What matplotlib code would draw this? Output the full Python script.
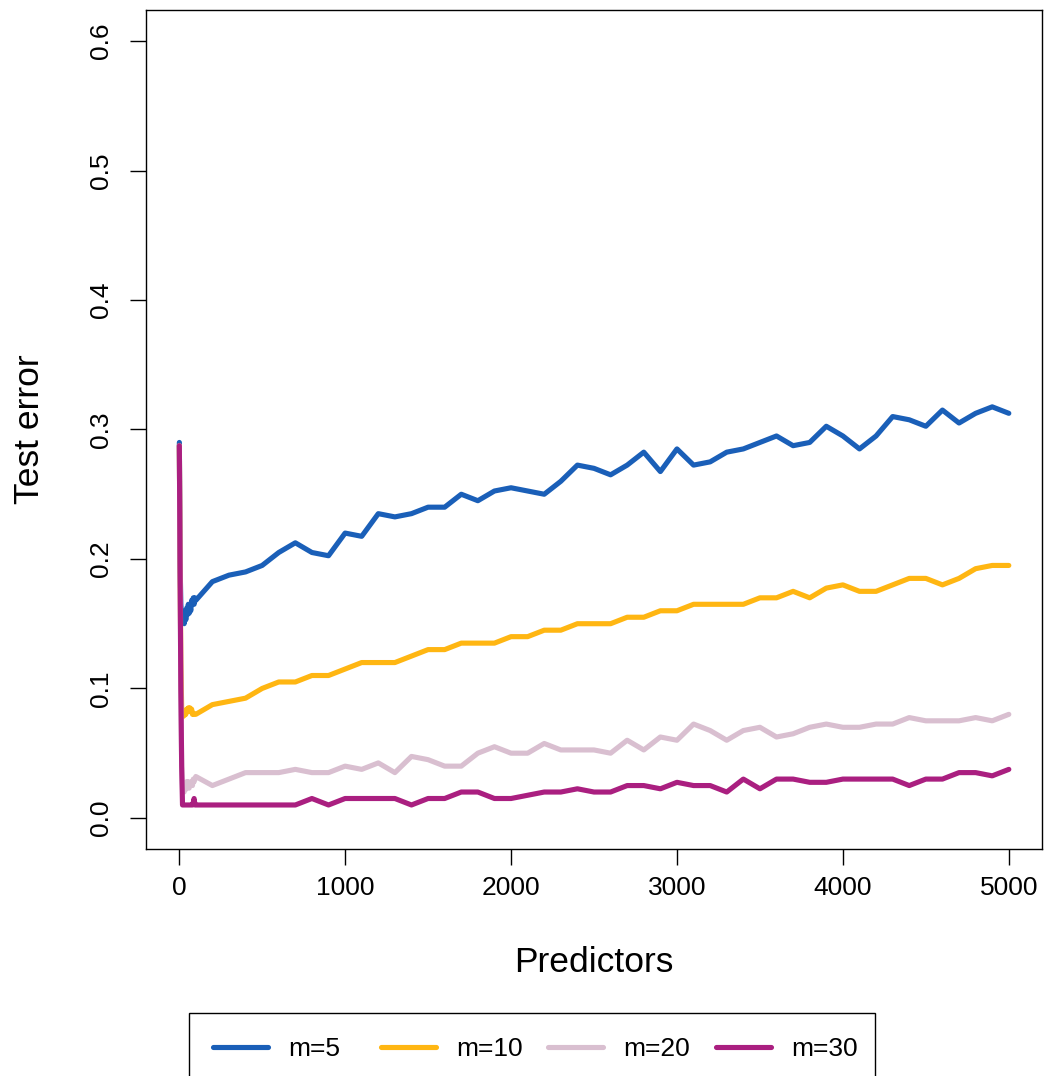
import matplotlib
matplotlib.use("Agg")
import matplotlib.pyplot as plt
from matplotlib.lines import Line2D
from matplotlib.patches import Rectangle

plt.rcParams['font.family'] = ['Liberation Sans', 'DejaVu Sans']

# Number of predictors: fine steps up to 100, then steps of 100
predictors = [1, 5, 10, 15, 20, 25, 30, 35, 40, 45, 50, 55, 60, 65, 70, 75, 80, 85, 90, 95, 100,
              200, 300, 400, 500, 600, 700, 800, 900, 1000,
              1100, 1200, 1300, 1400, 1500, 1600, 1700, 1800, 1900, 2000,
              2100, 2200, 2300, 2400, 2500, 2600, 2700, 2800, 2900, 3000,
              3100, 3200, 3300, 3400, 3500, 3600, 3700, 3800, 3900, 4000,
              4100, 4200, 4300, 4400, 4500, 4600, 4700, 4800, 4900, 5000]

err_m5 = [0.29, 0.20, 0.165, 0.155, 0.152, 0.158, 0.150, 0.160, 0.153, 0.162, 0.157, 0.165, 0.158,
          0.163, 0.160, 0.168, 0.165, 0.170, 0.165, 0.170, 0.168,
          0.1825, 0.1875, 0.19, 0.195, 0.205, 0.2125, 0.205, 0.2025, 0.22,
          0.2175, 0.235, 0.2325, 0.235, 0.24, 0.24, 0.25, 0.245, 0.2525, 0.255,
          0.2525, 0.25, 0.26, 0.2725, 0.27, 0.265, 0.2725, 0.2825, 0.2675, 0.285,
          0.2725, 0.275, 0.2825, 0.285, 0.29, 0.295, 0.2875, 0.29, 0.3025, 0.295,
          0.285, 0.295, 0.31, 0.3075, 0.3025, 0.315, 0.305, 0.3125, 0.3175, 0.3125]

err_m10 = [0.2875, 0.20, 0.12, 0.085, 0.078, 0.080, 0.079, 0.082, 0.080, 0.084, 0.082, 0.085, 0.083,
           0.085, 0.082, 0.084, 0.080, 0.081, 0.080, 0.080, 0.080,
           0.0875, 0.09, 0.0925, 0.10, 0.105, 0.105, 0.11, 0.11, 0.115,
           0.12, 0.12, 0.12, 0.125, 0.13, 0.13, 0.135, 0.135, 0.135, 0.14,
           0.14, 0.145, 0.145, 0.15, 0.15, 0.15, 0.155, 0.155, 0.16, 0.16,
           0.165, 0.165, 0.165, 0.165, 0.17, 0.17, 0.175, 0.17, 0.1775, 0.18,
           0.175, 0.175, 0.18, 0.185, 0.185, 0.18, 0.185, 0.1925, 0.195, 0.195]

err_m20 = [0.2875, 0.20, 0.10, 0.04, 0.022, 0.025, 0.020, 0.027, 0.022, 0.028, 0.025, 0.028, 0.023,
           0.027, 0.025, 0.028, 0.025, 0.030, 0.028, 0.030, 0.032,
           0.025, 0.03, 0.035, 0.035, 0.035, 0.0375, 0.035, 0.035, 0.04,
           0.0375, 0.0425, 0.035, 0.0475, 0.045, 0.04, 0.04, 0.05, 0.055, 0.05,
           0.05, 0.0575, 0.0525, 0.0525, 0.0525, 0.05, 0.06, 0.0525, 0.0625, 0.06,
           0.0725, 0.0675, 0.06, 0.0675, 0.07, 0.0625, 0.065, 0.07, 0.0725, 0.07,
           0.07, 0.0725, 0.0725, 0.0775, 0.075, 0.075, 0.075, 0.0775, 0.075, 0.08]

err_m30 = [0.2875, 0.20, 0.10, 0.04, 0.01, 0.01, 0.01, 0.01, 0.01, 0.01, 0.01, 0.01, 0.01,
           0.01, 0.01, 0.01, 0.01, 0.012, 0.015, 0.01, 0.01,
           0.01, 0.01, 0.01, 0.01, 0.01, 0.01, 0.015, 0.01, 0.015,
           0.015, 0.015, 0.015, 0.01, 0.015, 0.015, 0.02, 0.02, 0.015, 0.015,
           0.0175, 0.02, 0.02, 0.0225, 0.02, 0.02, 0.025, 0.025, 0.0225, 0.0275,
           0.025, 0.025, 0.02, 0.03, 0.0225, 0.03, 0.03, 0.0275, 0.0275, 0.03,
           0.03, 0.03, 0.03, 0.025, 0.03, 0.03, 0.035, 0.035, 0.0325, 0.0375]

series_labels = ["m=5", "m=10", "m=20", "m=30"]
series_colors = ["#1A5FB8", "#FFB612", "#D9BFD0", "#AA1F80"]
series_values = [err_m5, err_m10, err_m20, err_m30]

x_ticks = [0, 1000, 2000, 3000, 4000, 5000]
y_ticks = [0.0, 0.1, 0.2, 0.3, 0.4, 0.5, 0.6]
y_tick_labels = ["0.0", "0.1", "0.2", "0.3", "0.4", "0.5", "0.6"]

W, H = 1045, 1076
fig = plt.figure(figsize=(W / 100, H / 100), dpi=100)
ax = fig.add_axes([146 / W, 1 - 849 / H, 896 / W, 839 / H])

lw = 3.7
for vals, col in zip(series_values, series_colors):
    ax.plot(predictors, vals, color=col, lw=lw,
            solid_capstyle='round', solid_joinstyle='round')

ax.set_xlim(-200, 5200)
ax.set_ylim(-0.024, 0.624)
ax.set_xticks(x_ticks)
ax.set_xticklabels([str(v) for v in x_ticks])
ax.set_yticks(y_ticks)
ax.set_yticklabels(y_tick_labels, rotation=90, va='center')

for s in ax.spines.values():
    s.set_linewidth(1.0)
    s.set_color('black')

ax.tick_params(axis='both', length=11.5, width=1.0, labelsize=19)
ax.tick_params(axis='x', pad=8)
ax.tick_params(axis='y', pad=12)

ax.set_xlabel("Predictors", fontsize=25.5, labelpad=33)
ax.set_ylabel("Test error", fontsize=25.5, labelpad=31)

# Horizontal legend below the plot, equally spaced entries
leg_y = 1 - 1049 / H
starts = [213, 380.5, 548, 715.5]
for px, lab, col in zip(starts, series_labels, series_colors):
    h = Line2D([], [], color=col, lw=lw, solid_capstyle='round')
    lg = fig.legend(handles=[h], labels=[lab], loc='center left',
                    bbox_to_anchor=(px / W, leg_y), frameon=False,
                    fontsize=19, handlelength=2.1, handletextpad=0.75,
                    borderpad=0, borderaxespad=0)
fig.add_artist(Rectangle((189 / W, -0.05), (875 - 189) / W, 0.05 + (H - 1013) / H,
                         transform=fig.transFigure, fill=False,
                         edgecolor='black', lw=1.0))

fig.savefig("out.png", dpi=100)
